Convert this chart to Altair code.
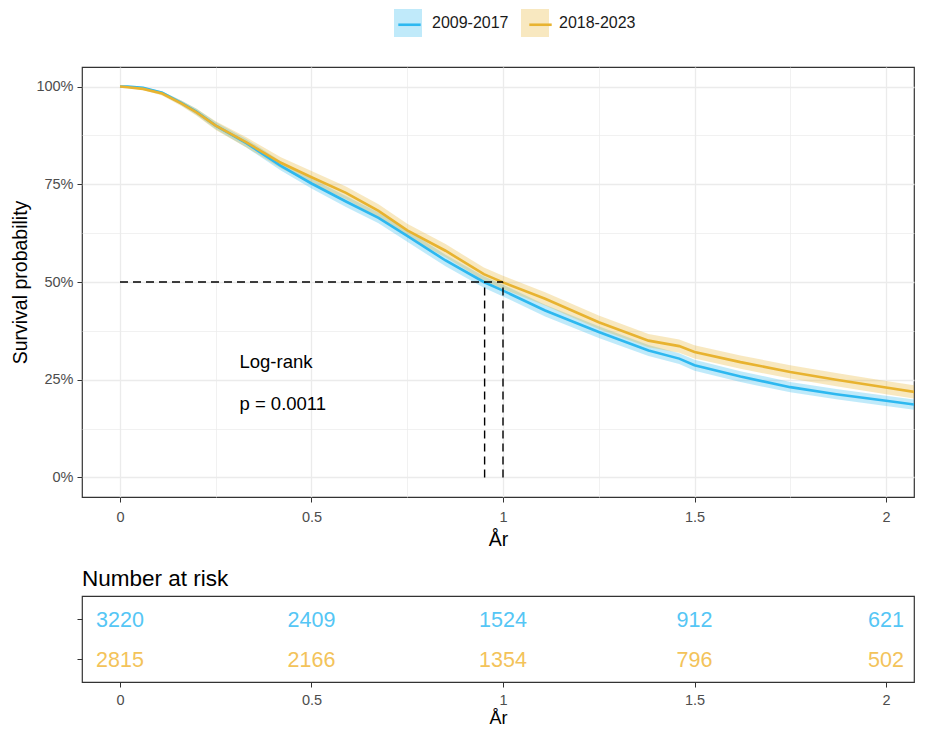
import altair as alt
import pandas as pd

# ---------------- data ----------------
groups = ["2009-2017", "2018-2023"]
line_colors = ["#2DB8F0", "#E8B330"]
risk_colors = ["#55C6F5", "#F3C35A"]

times = [0, 0.02, 0.06, 0.11, 0.16, 0.2, 0.25, 0.33, 0.42, 0.5, 0.59, 0.675, 0.75,
         0.85, 0.95, 1.0, 1.11, 1.25, 1.38, 1.46, 1.5, 1.62, 1.75, 1.87, 2.0, 2.1]

surv_a = [1.0, 1.0, 0.997, 0.984, 0.958, 0.935, 0.900, 0.855, 0.797, 0.752, 0.706, 0.664, 0.618,
          0.555, 0.500, 0.478, 0.427, 0.372, 0.325, 0.304, 0.287, 0.258, 0.231, 0.213, 0.196, 0.183]
lo_a = [1.0, 1.0, 0.995, 0.980, 0.952, 0.927, 0.891, 0.844, 0.785, 0.739, 0.692, 0.650, 0.603,
        0.540, 0.485, 0.463, 0.412, 0.357, 0.311, 0.290, 0.273, 0.244, 0.218, 0.200, 0.183, 0.170]
hi_a = [1.0, 1.0, 0.999, 0.988, 0.964, 0.943, 0.909, 0.866, 0.809, 0.765, 0.720, 0.678, 0.633,
        0.570, 0.515, 0.493, 0.442, 0.387, 0.339, 0.318, 0.301, 0.272, 0.244, 0.226, 0.209, 0.196]

surv_b = [1.0, 0.998, 0.994, 0.982, 0.957, 0.934, 0.900, 0.857, 0.805, 0.768, 0.728, 0.682, 0.632,
          0.580, 0.520, 0.499, 0.457, 0.397, 0.350, 0.336, 0.321, 0.295, 0.270, 0.250, 0.230, 0.215]
lo_b = [1.0, 0.996, 0.991, 0.977, 0.950, 0.925, 0.889, 0.844, 0.791, 0.752, 0.712, 0.665, 0.615,
        0.563, 0.503, 0.482, 0.440, 0.380, 0.333, 0.319, 0.304, 0.278, 0.253, 0.233, 0.213, 0.198]
hi_b = [1.0, 1.0, 0.997, 0.987, 0.964, 0.943, 0.911, 0.870, 0.819, 0.784, 0.744, 0.699, 0.649,
        0.597, 0.537, 0.516, 0.474, 0.414, 0.367, 0.353, 0.338, 0.312, 0.287, 0.267, 0.247, 0.232]

medians = [0.952, 1.0]
median_level = 0.5

risk_times = [0, 0.5, 1, 1.5, 2]
risk_a = [3220, 2409, 1524, 912, 621]
risk_b = [2815, 2166, 1354, 796, 502]

annot_labels = ["Log-rank", "p = 0.0011"]

# ---------------- tables ----------------
curve_df = pd.concat([
    pd.DataFrame({"time": times, "surv": surv_a, "lo": lo_a, "hi": hi_a, "group": groups[0]}),
    pd.DataFrame({"time": times, "surv": surv_b, "lo": lo_b, "hi": hi_b, "group": groups[1]}),
])
curve_df["series"] = curve_df["group"]
risk_df = pd.concat([
    pd.DataFrame({"time": risk_times, "n": risk_a, "group": groups[0]}),
    pd.DataFrame({"time": risk_times, "n": risk_b, "group": groups[1]}),
])
hseg_df = pd.DataFrame({"x": [0], "x2": [max(medians)], "y": [median_level]})
vseg_df = pd.DataFrame({"x": medians, "y": [0] * len(medians), "y2": [median_level] * len(medians)})

ANNOT_X = 0.312
annot_df = pd.DataFrame({"x": [ANNOT_X, ANNOT_X], "y": [0.296, 0.189], "label": annot_labels})

# ---------------- style ----------------
FONT = "Liberation Sans"
GRID = "#EBEBEB"
LABEL = "#4D4D4D"
PW = 832
PH = 430
x_dom = [-0.0992, 2.0731]
x_scale = alt.Scale(domain=x_dom, nice=False, zero=False)
y_scale = alt.Scale(domain=[-0.05, 1.05], nice=False, zero=False)

x_vals = [i * 0.25 for i in range(9)]
y_vals = [i * 0.125 for i in range(9)]

x_axis = alt.Axis(
    values=x_vals, title="År", grid=True, gridColor=GRID,
    gridWidth={"condition": {"test": "datum.value * 2 % 1 != 0", "value": 0.7}, "value": 1.3},
    tickOpacity={"condition": {"test": "datum.value * 2 % 1 != 0", "value": 0}, "value": 1},
    labelExpr="datum.value * 2 % 1 == 0 ? format(datum.value, '~g') : ''",
    domain=False, ticks=True, tickSize=5, tickColor="#333333", tickWidth=1,
    labelFont=FONT, labelFontSize=14.5, labelColor=LABEL, labelPadding=8,
    titleFont=FONT, titleFontSize=19.5, titleFontWeight="normal", titleColor="#000000", titlePadding=7,
)
y_axis = alt.Axis(
    values=y_vals, title="Survival probability", grid=True, gridColor=GRID,
    gridWidth={"condition": {"test": "datum.value * 4 % 1 != 0", "value": 0.7}, "value": 1.3},
    tickOpacity={"condition": {"test": "datum.value * 4 % 1 != 0", "value": 0}, "value": 1},
    labelExpr="datum.value * 4 % 1 == 0 ? format(datum.value, '.0%') : ''",
    domain=False, ticks=True, tickSize=5, tickColor="#333333", tickWidth=1,
    labelFont=FONT, labelFontSize=14.5, labelColor=LABEL, labelPadding=4,
    titleFont=FONT, titleFontSize=19.5, titleFontWeight="normal", titleColor="#000000", titlePadding=5,
)

LEG_X = 312
LEG_Y = -58
legend_common = dict(
    orient="none", legendX=LEG_X, legendY=LEG_Y, direction="horizontal", title=None,
    symbolSize=784, labelFont=FONT, labelFontSize=16, labelColor="#1A1A1A", labelOffset=10,
)

band = alt.Chart(curve_df).mark_area(opacity=0.3, interpolate="linear", clip=True).encode(
    x=alt.X("time:Q", scale=x_scale, axis=x_axis),
    y=alt.Y("lo:Q", scale=y_scale, axis=y_axis),
    y2="hi:Q",
    fill=alt.Fill("group:N", scale=alt.Scale(domain=groups, range=line_colors),
                  legend=alt.Legend(symbolType="square", symbolOpacity=0.3, columnPadding=12,
                                    symbolStrokeWidth=0, **legend_common)),
)

# stroke scale takes its domain from the data (same order) so the two legends stay separate;
# its legend carries only the line keys, drawn over the shaded squares
lines = alt.Chart(curve_df).mark_line(strokeWidth=2.6, interpolate="linear", clip=True).encode(
    x=alt.X("time:Q", scale=x_scale),
    y=alt.Y("surv:Q", scale=y_scale),
    stroke=alt.Stroke("series:N", scale=alt.Scale(range=line_colors),
                      legend=alt.Legend(symbolType="M-0.8,0H0.8", symbolStrokeWidth=2.6,
                                        labelExpr="''", columnPadding=89, **legend_common)),
)

hrule = alt.Chart(hseg_df).mark_rule(color="black", strokeDash=[8, 5], strokeWidth=1.4).encode(
    x=alt.X("x:Q", scale=x_scale), x2="x2:Q", y=alt.Y("y:Q", scale=y_scale))
vrule = alt.Chart(vseg_df).mark_rule(color="black", strokeDash=[8, 5], strokeWidth=1.4).encode(
    x=alt.X("x:Q", scale=x_scale), y=alt.Y("y:Q", scale=y_scale), y2="y2:Q")

annot = alt.Chart(annot_df).mark_text(font=FONT, fontSize=18.5, align="left", baseline="middle",
                                      color="#000000").encode(
    x=alt.X("x:Q", scale=x_scale), y=alt.Y("y:Q", scale=y_scale), text="label:N")

main = alt.layer(band, lines, hrule, vrule, annot).properties(width=PW, height=PH)

x_axis_t = alt.Axis(
    values=risk_times, title="År", grid=False,
    labelExpr="format(datum.value, '~g')",
    domain=False, ticks=True, tickSize=5, tickColor="#333333", tickWidth=1,
    labelFont=FONT, labelFontSize=14.5, labelColor=LABEL, labelPadding=6,
    titleFont=FONT, titleFontSize=18, titleFontWeight="normal", titleColor="#000000", titlePadding=3,
)
table = alt.Chart(risk_df).mark_text(font=FONT, fontSize=21.5, baseline="middle", dy=2).encode(
    x=alt.X("time:Q", scale=x_scale, axis=x_axis_t),
    y=alt.Y("group:N", scale=alt.Scale(type="point", padding=0.6, domain=groups),
            axis=alt.Axis(labels=False, title=None, ticks=True, domain=False, grid=False,
                          tickSize=5, tickColor="#333333")),
    text=alt.Text("n:Q", format="d"),
    color=alt.Color("group:N", scale=alt.Scale(domain=groups, range=risk_colors), legend=None),
).properties(
    width=PW, height=86,
    title=alt.TitleParams("Number at risk", anchor="start", frame="group", font=FONT,
                          fontSize=22.5, fontWeight="normal", color="#000000", offset=6),
)

chart = alt.vconcat(main, table, spacing=16).resolve_scale(
    x="independent", y="independent", color="independent"
).properties(
    padding={"left": 2, "top": 1, "right": 0, "bottom": 0}
).configure_view(
    stroke="#333333", strokeWidth=1.2
)

chart.save("out.html", embed_options={"renderer": "svg", "actions": False})
